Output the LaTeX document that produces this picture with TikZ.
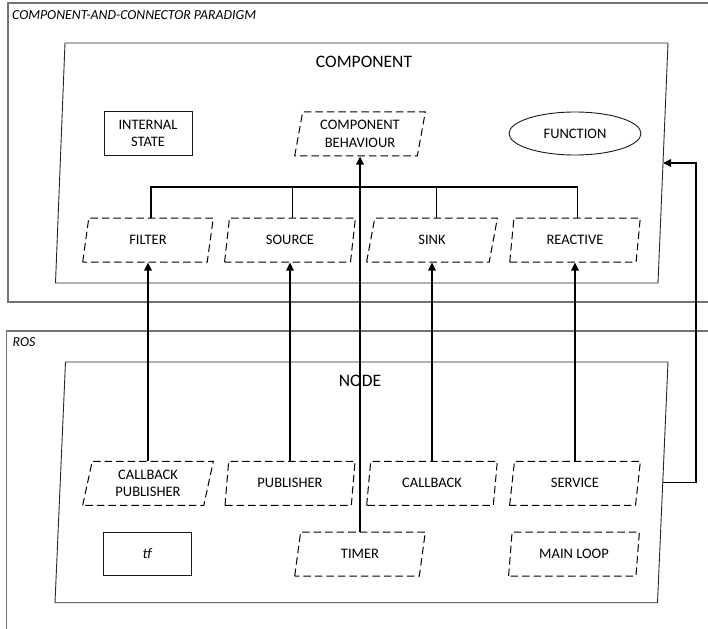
\documentclass[tikz,border=0pt]{standalone}
\usepackage{fontspec}
\setmainfont{Carlito}
\usetikzlibrary{arrows.meta,shapes.geometric}
\begin{document}
\begin{tikzpicture}[x=1pt,y=-1pt,
  frame/.style={draw=black!55, line width=1.2pt},
  holder/.style={draw=black!85, line width=0.9pt},
  framelabel/.style={anchor=base west, inner sep=0pt, font=\fontsize{13.8}{16}\selectfont\itshape},
  title/.style={anchor=base, inner sep=0pt, font=\fontsize{17.5}{20}\selectfont},
  labelfont/.style={font=\fontsize{14.5}{17.5}\selectfont},
  part/.style={trapezium, trapezium left angle=78.4, trapezium right angle=101.6,
    trapezium stretches=true, draw=black, line width=1pt,
    dash pattern=on 7.5pt off 4pt, minimum width=131pt, minimum height=44pt,
    inner sep=0pt, align=center, labelfont},
  plain/.style={rectangle, draw=black!90, line width=0.9pt, minimum width=88pt,
    minimum height=43.5pt, inner sep=0pt, align=center, labelfont},
  oval/.style={ellipse, draw=black!90, line width=0.9pt, minimum width=132pt,
    minimum height=43pt, inner sep=0pt, align=center, labelfont},
  link/.style={draw=black, line width=1.2pt},
  arr/.style={link, -{Triangle[length=8pt,width=7.5pt]}}
]
\useasboundingbox (0,0) rectangle (708,628);

% outer paradigm frames (open to the right and below)
\draw[frame] (714,3) -- (8,3) -- (8,302) -- (714,302);
\draw[frame] (714,331) -- (6.5,331) -- (6.5,634);
\node[framelabel] (cclabel) at (12,20) {COMPONENT-AND-CONNECTOR PARADIGM};
\node[framelabel] (roslabel) at (12.5,346.5) {ROS};

% component container
\draw[holder] (65,43) -- (668,43) -- (658,283) -- (55.5,283) -- cycle;
\coordinate (compE) at (663,163);
\node[title] (comptitle) at (364,67.3) {COMPONENT};

% ROS node container
\draw[holder] (65.5,362) -- (668,362) -- (657.5,602.7) -- (55,602.7) -- cycle;
\coordinate (nodeE) at (662.8,482.3);
\node[title] (nodetitle) at (360,386) {NODE};

% component elements
\node[plain] (state) at (148,133.5) {INTERNAL\\STATE};
\node[part] (behav) at (360,134) {COMPONENT\\BEHAVIOUR};
\node[oval] (func) at (575,133.5) {FUNCTION};
\node[part] (filter) at (148,240) {FILTER};
\node[part] (source) at (290,240) {SOURCE};
\node[part] (sink) at (432,240) {SINK};
\node[part] (reactive) at (575,240) {REACTIVE};

% ROS elements
\node[part] (cbpub) at (148,483.3) {CALLBACK\\PUBLISHER};
\node[part] (pub) at (290,483.3) {PUBLISHER};
\node[part] (cb) at (432,483.3) {CALLBACK};
\node[part] (service) at (575,483.3) {SERVICE};
\node[plain] (tf) at (147,554) {\itshape tf};
\node[part] (timer) at (360,554) {TIMER};
\node[part] (mainloop) at (574,554) {MAIN LOOP};

% behaviour specialisations
\coordinate (bus) at (360,187);
\draw[link] (filter.top side) |- (bus) -| (reactive.top side);
\draw[link] (source.top side) |- (bus);
\draw[link] (sink.top side) |- (bus);

% mappings from ROS to component concepts
\draw[arr] (timer.center |- timer.north) -- (behav.center |- behav.south);
\draw[arr] (cbpub.center |- cbpub.north) -- (filter.center |- filter.south);
\draw[arr] (pub.center |- pub.north) -- (source.center |- source.south);
\draw[arr] (cb.center |- cb.north) -- (sink.center |- sink.south);
\draw[arr] (service.center |- service.north) -- (reactive.center |- reactive.south);

% node as a whole maps to the component
\coordinate (fb) at (696,163);
\draw[arr] (nodeE) -| (fb) -- (compE);
\end{tikzpicture}
\end{document}
